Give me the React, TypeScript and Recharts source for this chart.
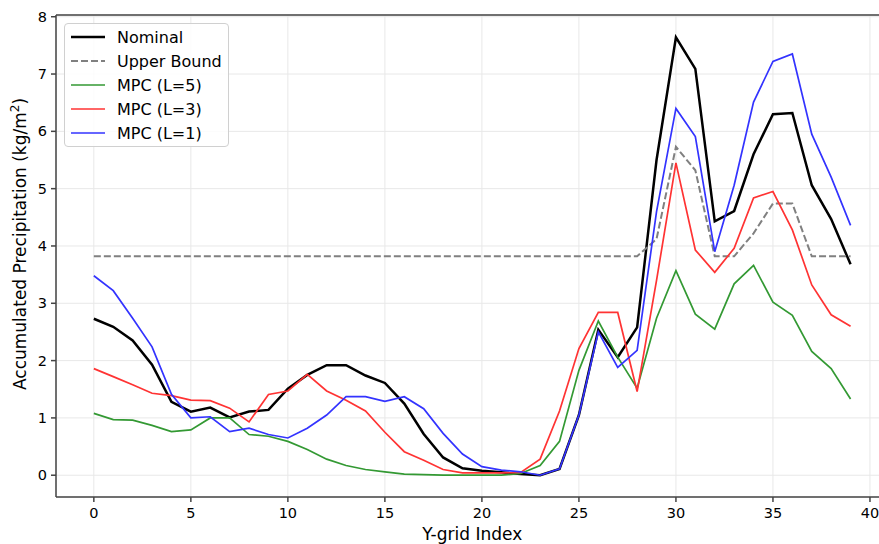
import { CartesianGrid, Line, LineChart, ReferenceLine, XAxis, YAxis } from "recharts";

const X_INDEX = Array.from({ length: 40 }, (_, i) => i);

const NOMINAL = [
  2.73, 2.59, 2.35, 1.93, 1.28, 1.11, 1.18, 1.01, 1.11, 1.14,
  1.51, 1.75, 1.92, 1.92, 1.74, 1.61, 1.25, 0.72, 0.31, 0.12,
  0.08, 0.05, 0.02, 0.0, 0.11, 1.05, 2.54, 2.06, 2.58, 5.5,
  7.64, 7.09, 4.43, 4.61, 5.6, 6.3, 6.32, 5.06, 4.47, 3.68,
];
const UPPER = [
  3.82, 3.82, 3.82, 3.82, 3.82, 3.82, 3.82, 3.82, 3.82, 3.82,
  3.82, 3.82, 3.82, 3.82, 3.82, 3.82, 3.82, 3.82, 3.82, 3.82,
  3.82, 3.82, 3.82, 3.82, 3.82, 3.82, 3.82, 3.82, 3.82, 4.12,
  5.73, 5.32, 3.82, 3.82, 4.22, 4.74, 4.74, 3.82, 3.82, 3.82,
];
const MPC_L5 = [
  1.08, 0.97, 0.96, 0.87, 0.76, 0.79, 1.0, 1.0, 0.71, 0.68,
  0.59, 0.45, 0.28, 0.17, 0.1, 0.06, 0.02, 0.01, 0.0, 0.0,
  0.0, 0.0, 0.03, 0.17, 0.59, 1.83, 2.69, 2.06, 1.52, 2.74,
  3.57, 2.81, 2.55, 3.34, 3.66, 3.02, 2.79, 2.16, 1.86, 1.33,
];
const MPC_L3 = [
  1.86, 1.72, 1.58, 1.43, 1.39, 1.31, 1.3, 1.17, 0.93, 1.41,
  1.47, 1.76, 1.47, 1.31, 1.12, 0.75, 0.41, 0.26, 0.1, 0.04,
  0.04, 0.04, 0.05, 0.28, 1.12, 2.21, 2.84, 2.84, 1.46, 3.4,
  5.45, 3.93, 3.54, 3.96, 4.84, 4.95, 4.28, 3.32, 2.8, 2.6,
];
const MPC_L1 = [
  3.48, 3.22, 2.74, 2.24, 1.41, 1.0, 1.02, 0.76, 0.82, 0.71,
  0.65, 0.82, 1.05, 1.37, 1.37, 1.29, 1.37, 1.16, 0.73, 0.37,
  0.15, 0.09, 0.06, 0.0, 0.11, 1.05, 2.5, 1.88, 2.18, 4.6,
  6.4, 5.91, 3.9, 5.06, 6.51, 7.22, 7.35, 5.95, 5.2, 4.36,
];

const X_TICKS = [0, 5, 10, 15, 20, 25, 30, 35, 40];
const Y_TICKS = [0, 1, 2, 3, 4, 5, 6, 7, 8];
const X_DOMAIN = [-1.95, 40.95];
const Y_DOMAIN = [-0.38, 8.03];

const SERIES = [
  { key: "nominal", name: "Nominal", color: "#000000", width: 2.5, dash: undefined },
  { key: "upper", name: "Upper Bound", color: "#808080", width: 2, dash: "7 3" },
  { key: "l5", name: "MPC (L=5)", color: "#339933", width: 1.7, dash: undefined },
  { key: "l3", name: "MPC (L=3)", color: "#ff3333", width: 1.7, dash: undefined },
  { key: "l1", name: "MPC (L=1)", color: "#3333ff", width: 1.7, dash: undefined },
];

const data = X_INDEX.map((x, i) => ({
  x,
  nominal: NOMINAL[i],
  upper: UPPER[i],
  l5: MPC_L5[i],
  l3: MPC_L3[i],
  l1: MPC_L1[i],
}));

const FONT = "'DejaVu Sans', sans-serif";
const SPINE = "#444444";

function YLabel() {
  return (
    <text
      x={26}
      y={244}
      transform="rotate(-90 26 244)"
      textAnchor="middle"
      fontSize={17}
      fontFamily={FONT}
      fill="#000"
    >
      Accumulated Precipitation (kg/m
      <tspan fontSize={12} dy={-7}>2</tspan>
      <tspan dy={7}>)</tspan>
    </text>
  );
}

function LegendBox() {
  return (
    <div
      style={{
        position: "absolute",
        left: 64,
        top: 23,
        width: 163,
        height: 122,
        border: "1px solid #d0d0d0",
        borderRadius: 4,
        background: "rgba(255,255,255,0.85)",
        fontFamily: FONT,
        fontSize: 16,
      }}
    >
      {SERIES.map((s, i) => (
        <div
          key={s.key}
          style={{ position: "absolute", left: 5, top: 3 + i * 24, height: 20, display: "flex", alignItems: "center" }}
        >
          <svg width={36} height={10} style={{ marginRight: 11 }}>
            <line x1={1} y1={5} x2={35} y2={5} stroke={s.color} strokeWidth={s.width} strokeDasharray={s.dash} />
          </svg>
          <span style={{ whiteSpace: "nowrap" }}>{s.name}</span>
        </div>
      ))}
    </div>
  );
}

export default function App() {
  return (
    <div style={{ position: "absolute", left: 0, top: 0, width: 879, height: 544, overflow: "hidden", background: "#fff" }}>
      <LineChart width={900} height={544} data={data} margin={{ top: 15, right: 11.6, left: 0, bottom: 0 }}>
        <CartesianGrid stroke="#e8e8e8" strokeWidth={1} />
        <XAxis
          dataKey="x"
          type="number"
          domain={X_DOMAIN}
          ticks={X_TICKS}
          allowDataOverflow
          height={47}
          tickSize={5}
          tickMargin={6}
          stroke={SPINE}
          strokeWidth={1.5}
          tick={{ fontSize: 14.5, fill: "#000", fontFamily: FONT }}
          label={{ value: "Y-grid Index", position: "insideBottom", offset: 4, fontSize: 17, fill: "#000", fontFamily: FONT }}
        />
        <YAxis
          type="number"
          domain={Y_DOMAIN}
          ticks={Y_TICKS}
          allowDataOverflow
          width={56}
          tickSize={5}
          tickMargin={4}
          stroke={SPINE}
          strokeWidth={1.5}
          tick={{ fontSize: 14.5, fill: "#000", fontFamily: FONT }}
          label={<YLabel />}
        />
        <ReferenceLine y={Y_DOMAIN[1]} stroke={SPINE} strokeWidth={1.5} ifOverflow="visible" />
        {SERIES.map((s) => (
          <Line
            key={s.key}
            type="linear"
            dataKey={s.key}
            name={s.name}
            stroke={s.color}
            strokeWidth={s.width}
            strokeDasharray={s.dash}
            dot={false}
            activeDot={false}
            isAnimationActive={false}
          />
        ))}
      </LineChart>
      <LegendBox />
    </div>
  );
}
